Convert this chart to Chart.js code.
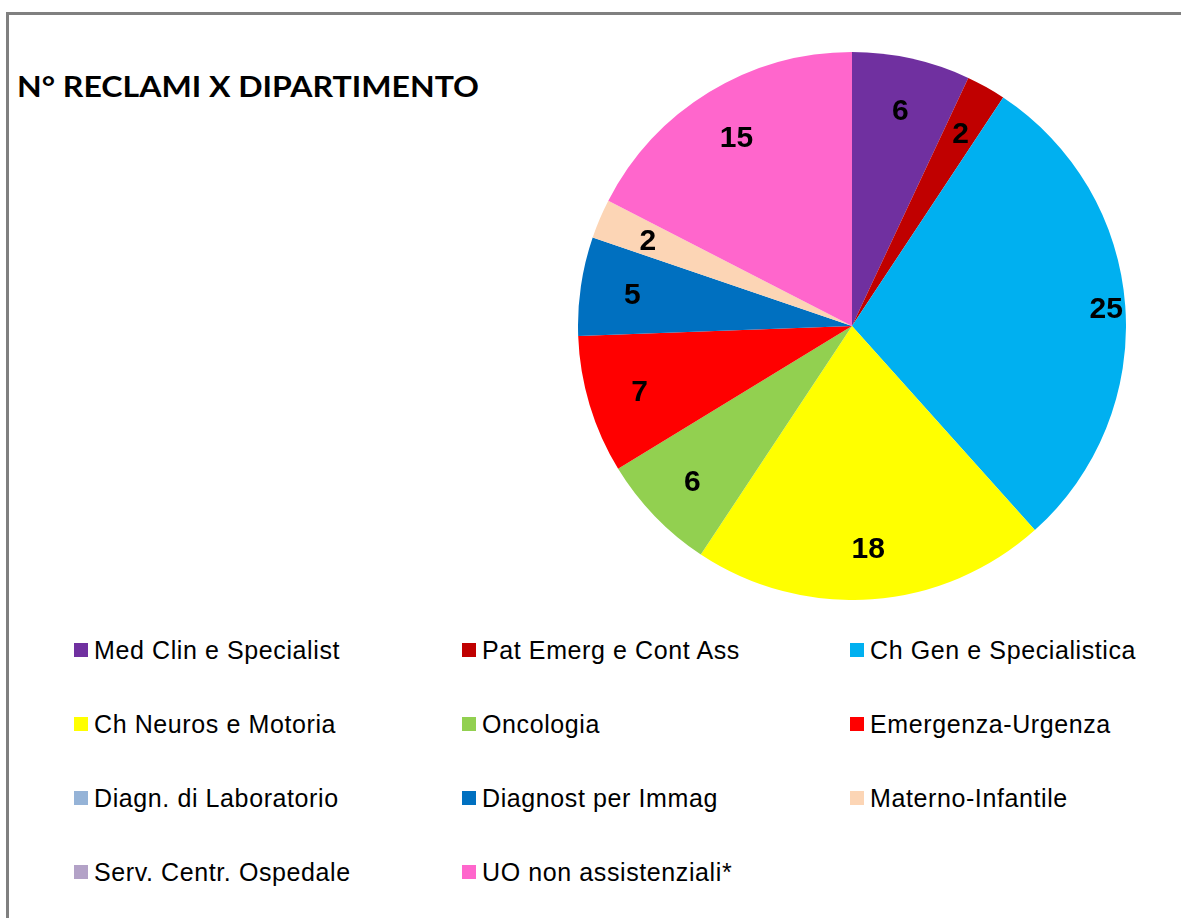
<!DOCTYPE html>
<html>
<head>
<meta charset="utf-8">
<script src="https://cdn.jsdelivr.net/npm/chart.js@4/dist/chart.umd.min.js"></script>
<style>
  html, body { margin: 0; padding: 0; background: #ffffff; width: 1181px; height: 918px; overflow: hidden; position: relative; }
  #frame { position: absolute; left: 6px; top: 12px; width: 1300px; height: 1000px; border: 3px solid #808080; box-sizing: border-box; }
  #title { position: absolute; left: 17px; top: 72px; font-family: Lato, "Open Sans", sans-serif; font-weight: 700; font-size: 28px; line-height: 28px; color: #000; white-space: nowrap; transform-origin: 0 0; }
  #pie { position: absolute; left: 578px; top: 52px; }
  .lg { position: absolute; height: 25px; display: flex; align-items: center; white-space: nowrap;
        font-family: "Liberation Sans", Arial, sans-serif; font-size: 25px; line-height: 25px; letter-spacing: 0.6px; color: #000; }
  .lg .sw { width: 14px; height: 14px; margin-right: 6px; flex: none; }
</style>
</head>
<body>
<div id="frame"></div>
<div id="title">N° RECLAMI X DIPARTIMENTO</div>
<canvas id="pie" width="548" height="548"></canvas>
<div id="legend"></div>
<script>
const titleText = "N° RECLAMI X DIPARTIMENTO";
const categories = [
  "Med Clin e Specialist",
  "Pat Emerg e Cont Ass",
  "Ch Gen e Specialistica",
  "Ch Neuros e Motoria",
  "Oncologia",
  "Emergenza-Urgenza",
  "Diagn. di Laboratorio",
  "Diagnost per Immag",
  "Materno-Infantile",
  "Serv. Centr. Ospedale",
  "UO non assistenziali*"
];
const values = [6, 2, 25, 18, 6, 7, 0, 5, 2, 0, 15];
const colors = [
  "#7030A0", "#C00000", "#00B0F0", "#FFFF00", "#92D050", "#FF0000",
  "#95B3D7", "#0070C0", "#FCD5B5", "#B3A2C7", "#FF66CC"
];

document.getElementById('title').textContent = titleText;

const labelPlugin = {
  id: 'sliceLabels',
  afterDatasetsDraw(chart, args, opts) {
    const ctx = chart.ctx;
    const meta = chart.getDatasetMeta(0);
    const data = chart.data.datasets[0].data;
    ctx.save();
    ctx.font = 'bold 30px "Liberation Sans", Arial, sans-serif';
    ctx.fillStyle = '#000';
    ctx.textAlign = 'center';
    ctx.textBaseline = 'alphabetic';
    meta.data.forEach((arc, i) => {
      const v = data[i];
      if (!v) return;
      const p = arc.getProps(['x', 'y', 'startAngle', 'endAngle', 'outerRadius'], true);
      const mid = (p.startAngle + p.endAngle) / 2;
      const f = (opts.radiusOverride && opts.radiusOverride[i] != null) ? opts.radiusOverride[i] : opts.radius;
      const r = p.outerRadius * f;
      const x = p.x + Math.cos(mid) * r;
      const y = p.y + Math.sin(mid) * r;
      ctx.fillText(String(v), x, y + 10.7);
    });
    ctx.restore();
  }
};

const chart = new Chart(document.getElementById('pie'), {
  type: 'pie',
  data: {
    labels: categories,
    datasets: [{
      data: values,
      backgroundColor: colors,
      borderWidth: 0
    }]
  },
  options: {
    responsive: false,
    animation: false,
    rotation: 0,
    layout: { padding: 0 },
    plugins: {
      legend: { display: false },
      tooltip: { enabled: false },
      sliceLabels: { radius: 0.81, radiusOverride: { 2: 0.93 } }
    }
  },
  plugins: [labelPlugin]
});

// HTML legend built from the chart's own legend items
const legend = document.getElementById('legend');
const items = chart.options.plugins.legend.labels.generateLabels(chart);
const colX = [74, 462, 850];
const rowY = [650, 724, 798, 872];
items.forEach((it, i) => {
  const col = i % 3, row = Math.floor(i / 3);
  const d = document.createElement('div');
  d.className = 'lg';
  d.style.left = colX[col] + 'px';
  d.style.top = (rowY[row] - 12.5) + 'px';
  const sw = document.createElement('span');
  sw.className = 'sw';
  sw.style.background = it.fillStyle;
  const t = document.createElement('span');
  t.textContent = it.text;
  d.appendChild(sw);
  d.appendChild(t);
  legend.appendChild(d);
});

// fit title width to the reference (Calibri substitute)
const fitTitle = () => {
  const el = document.getElementById('title');
  el.style.transform = 'none';
  const w = el.getBoundingClientRect().width;
  if (w > 0) el.style.transform = 'scaleX(' + (462 / w) + ')';
};
fitTitle();
if (document.fonts && document.fonts.ready) document.fonts.ready.then(fitTitle);
</script>
</body>
</html>
